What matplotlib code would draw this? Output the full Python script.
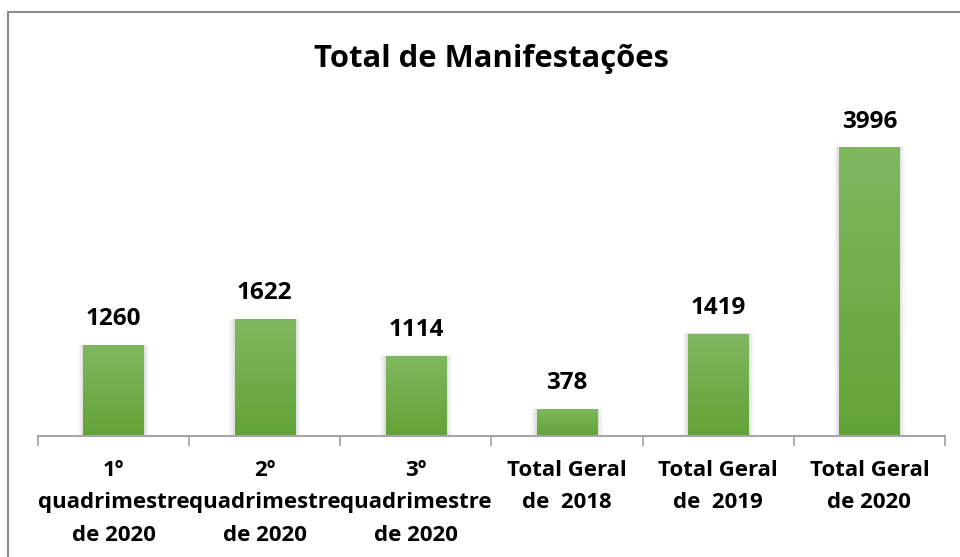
import matplotlib
matplotlib.use("Agg")
import matplotlib.pyplot as plt
import numpy as np
from matplotlib.patches import Rectangle
from matplotlib.colors import LinearSegmentedColormap

categories = ["1º\nquadrimestre\nde 2020", "2º\nquadrimestre\nde 2020", "3º\nquadrimestre\nde 2020",
              "Total Geral\nde  2018", "Total Geral\nde  2019", "Total Geral\nde 2020"]
values = [1260, 1622, 1114, 378, 1419, 3996]
title = "Total de Manifestações"

W, H = 960, 557
fig = plt.figure(figsize=(W/100, H/100), dpi=100)
plt.rcParams['font.family'] = ['Open Sans', 'DejaVu Sans']

ax_left, ax_right = 38/W, 945/W
ax_bottom = (H-436)/H
ymax = 4500
px_per_unit = 0.0722
ax_top_px = 436 - ymax*px_per_unit
ax = fig.add_axes([ax_left, ax_bottom, ax_right-ax_left, (436-ax_top_px)/H])

# figure border
fig.add_artist(Rectangle((8/W, -0.1), 1.1, (H-12)/H + 0.1, transform=fig.transFigure,
                         fill=False, edgecolor='#8c8c8c', linewidth=1.5))

x = np.arange(len(values))
bw = 0.40
cmap = LinearSegmentedColormap.from_list("g", ["#62a336", "#80b860"])
grad = np.linspace(0, 1, 256).reshape(-1, 1)
for xi, v in zip(x, values):
    # soft shadow
    for k, a in enumerate([0.05, 0.04, 0.03]):
        d = 0.012*(k+1)
        ax.add_patch(Rectangle((xi-bw/2-d, 0), bw+2*d, v+d*60, facecolor='black', alpha=a,
                               edgecolor='none', zorder=1))
    bar = Rectangle((xi-bw/2, 0), bw, v, facecolor='none', edgecolor='none', zorder=2)
    ax.add_patch(bar)
    im = ax.imshow(grad, cmap=cmap, aspect='auto', origin='lower',
                   extent=(xi-bw/2, xi+bw/2, 0, v), zorder=2)
    im.set_clip_path(bar)
    ax.annotate(f"{v}", (xi, v), xytext=(0, 10), textcoords='offset points',
                ha='center', va='bottom', fontsize=17.5, fontweight='bold', color='black')

ax.set_xlim(-0.5, len(values)-0.5)
ax.set_ylim(0, ymax)
for s in ['top', 'right', 'left']:
    ax.spines[s].set_visible(False)
ax.spines['bottom'].set_color('#a6a6a6')
ax.spines['bottom'].set_linewidth(1.5)
ax.set_yticks([])
ax.set_xticks(x)
ax.set_xticklabels(categories, fontsize=16, fontweight='bold', linespacing=1.72)
ax.tick_params(axis='x', which='major', length=0, pad=17)
ax.set_xticks(np.arange(-0.5, len(values)), minor=True)
ax.tick_params(axis='x', which='minor', length=7, width=1.3, color='#a6a6a6')

fig.text(491/W, (H-67)/H, title, ha='center', va='baseline', fontsize=22.3, fontweight='bold')

fig.savefig("out.png", dpi=100)
